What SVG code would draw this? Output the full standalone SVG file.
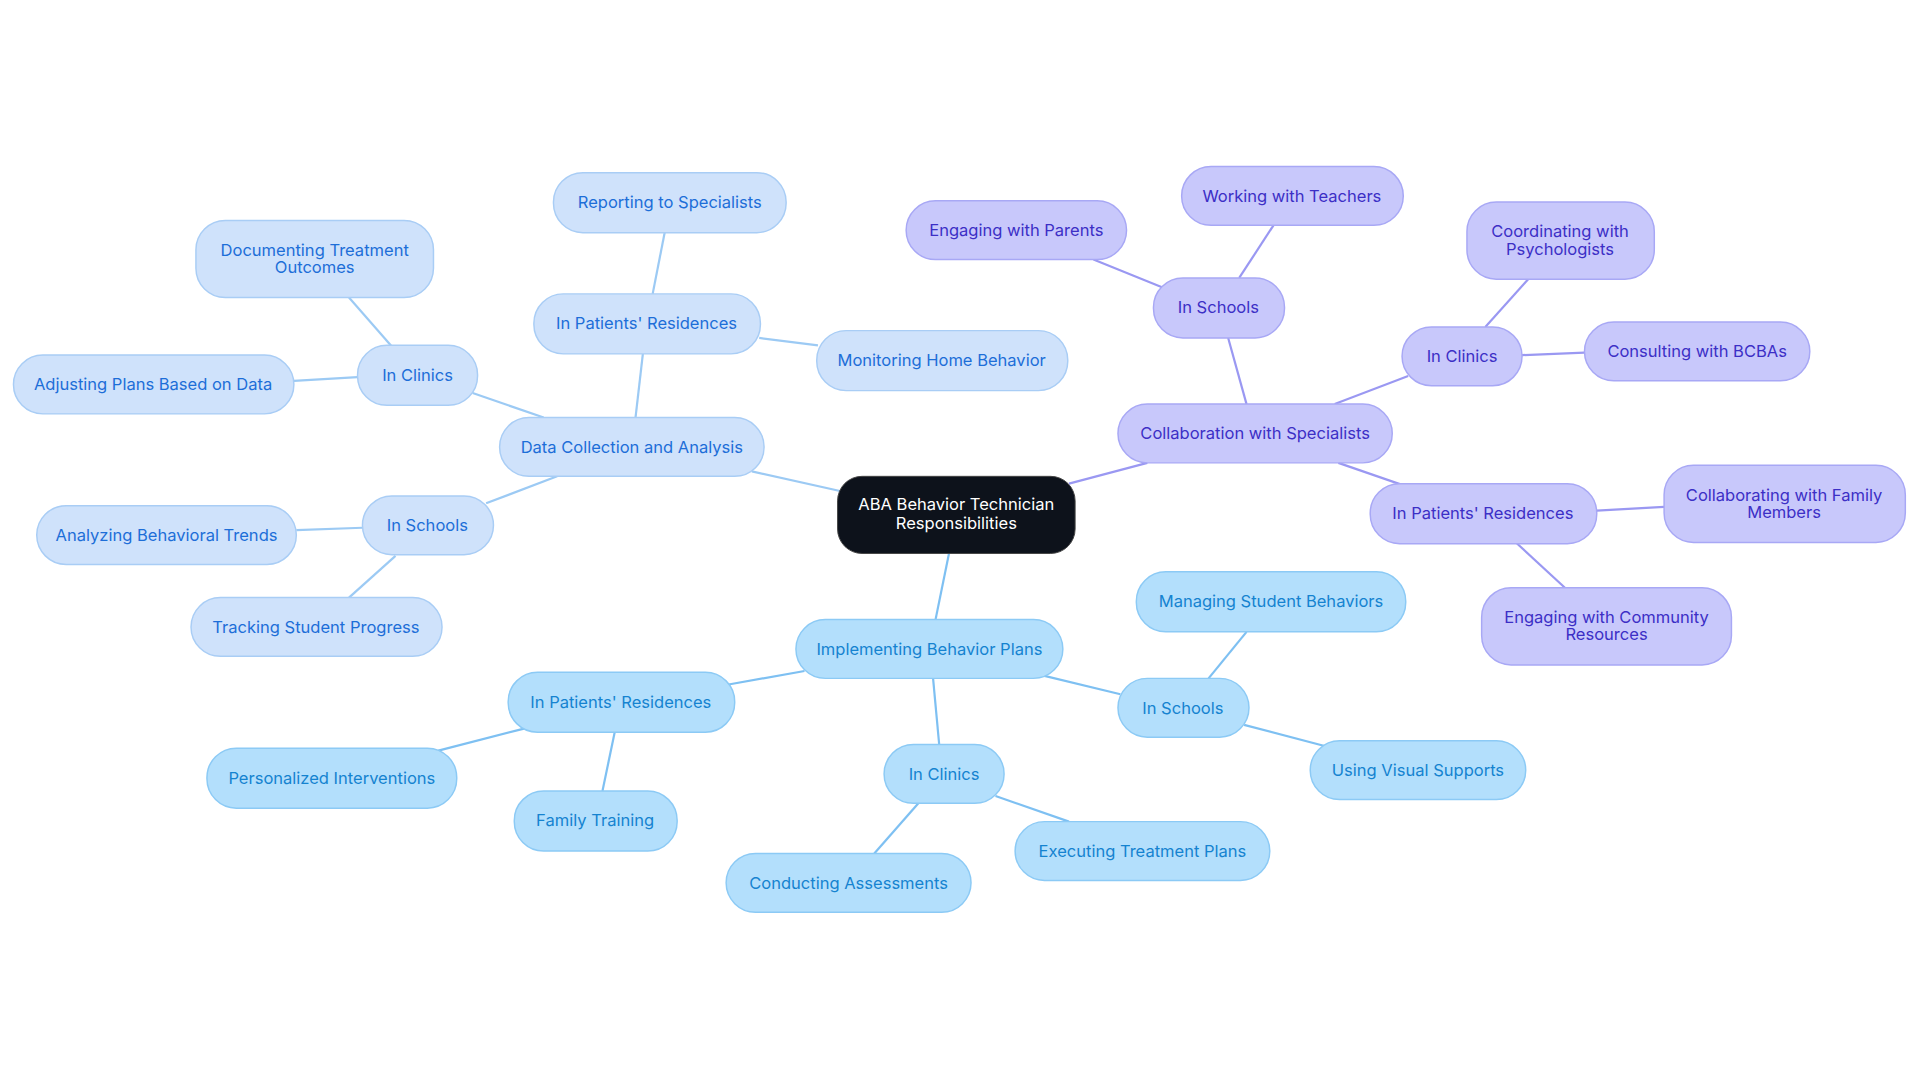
<svg xmlns="http://www.w3.org/2000/svg" width="1920" height="1083" viewBox="0 0 1920 1083">
<style>
text{font-family:Inter,"Liberation Sans",sans-serif;font-size:13.5px;text-anchor:middle;dominant-baseline:central}
.e line{stroke-width:1.8}
.a rect{fill:#cfe2fb;stroke:#a9cdf5;stroke-width:1.2}.a text{fill:#1d6ed8}
.b rect{fill:#b3dffc;stroke:#8ccaf5;stroke-width:1.2}.b text{fill:#1583d0}
.c rect{fill:#c8c8fb;stroke:#a8a8f5;stroke-width:1.2}.c text{fill:#3c2fc6}
</style>
<rect width="1920" height="1083" fill="#fff"/>
<g transform="scale(1.2245)">
<g id="edges" class="e">
<g stroke="#9ccaf4">
<line x1="686" y1="401" x2="614" y2="385"/><line x1="519" y1="341" x2="525" y2="289"/><line x1="533" y1="240" x2="543" y2="189"/><line x1="620" y1="276" x2="668" y2="282"/><line x1="444" y1="341" x2="386" y2="321"/><line x1="320" y1="283" x2="285" y2="243"/><line x1="292" y1="308" x2="240" y2="311"/><line x1="455" y1="389" x2="397" y2="411"/><line x1="296" y1="431" x2="242" y2="433"/><line x1="323" y1="454" x2="285" y2="488"/>
</g>
<g stroke="#7ec0f2">
<line x1="775" y1="452" x2="764" y2="506"/><line x1="657" y1="548" x2="595" y2="559"/><line x1="428" y1="595" x2="358" y2="613"/><line x1="502" y1="598" x2="492" y2="646"/><line x1="762" y1="554" x2="767" y2="608"/><line x1="750" y1="656" x2="714" y2="697"/><line x1="813" y1="650" x2="873" y2="671"/><line x1="853" y1="552" x2="915" y2="567"/><line x1="987" y1="554" x2="1018" y2="516"/><line x1="1016" y1="592" x2="1081" y2="609"/>
</g>
<g stroke="#9a98f2">
<line x1="873" y1="395" x2="937" y2="378"/><line x1="1018" y1="330" x2="1003" y2="276"/><line x1="950" y1="235" x2="893" y2="212"/><line x1="1012" y1="227" x2="1040" y2="184"/><line x1="1090" y1="330" x2="1150" y2="307"/><line x1="1213" y1="267" x2="1248" y2="228"/><line x1="1243" y1="290" x2="1294" y2="288"/><line x1="1093" y1="378" x2="1145" y2="396"/><line x1="1304" y1="417" x2="1359" y2="414"/><line x1="1238" y1="443" x2="1278" y2="480"/>
</g>
</g>
<g id="center"><rect x="684" y="389" width="194" height="63" rx="20" fill="#0d121b" stroke="#444" stroke-width="0.8"/><text x="781" y="412" fill="#fff">ABA Behavior Technician</text><text x="781" y="427" fill="#fff">Responsibilities</text></g>
<g class="a">
<g id="n1"><rect x="408" y="341" width="216" height="48" rx="24"/><text x="516" y="365">Data Collection and Analysis</text></g>
<g id="n2"><rect x="436" y="240" width="185" height="49" rx="24"/><text x="528" y="264">In Patients' Residences</text></g>
<g id="n3"><rect x="452" y="141" width="190" height="49" rx="24"/><text x="547" y="165">Reporting to Specialists</text></g>
<g id="n4"><rect x="667" y="270" width="205" height="49" rx="24"/><text x="769" y="294">Monitoring Home Behavior</text></g>
<g id="n5"><rect x="292" y="282" width="98" height="49" rx="24"/><text x="341" y="306">In Clinics</text></g>
<g id="n6"><rect x="160" y="180" width="194" height="63" rx="24"/><text x="257" y="204">Documenting Treatment</text><text x="257" y="218">Outcomes</text></g>
<g id="n7"><rect x="11" y="290" width="229" height="48" rx="24"/><text x="125" y="314">Adjusting Plans Based on Data</text></g>
<g id="n8"><rect x="296" y="405" width="107" height="48" rx="24"/><text x="349" y="429">In Schools</text></g>
<g id="n9"><rect x="30" y="413" width="212" height="48" rx="24"/><text x="136" y="437">Analyzing Behavioral Trends</text></g>
<g id="n10"><rect x="156" y="488" width="205" height="48" rx="24"/><text x="258" y="512">Tracking Student Progress</text></g>
</g>
<g class="b">
<g id="n11"><rect x="650" y="506" width="218" height="48" rx="24"/><text x="759" y="530">Implementing Behavior Plans</text></g>
<g id="n12"><rect x="415" y="549" width="185" height="49" rx="24"/><text x="507" y="573">In Patients' Residences</text></g>
<g id="n13"><rect x="169" y="611" width="204" height="49" rx="24"/><text x="271" y="635">Personalized Interventions</text></g>
<g id="n14"><rect x="420" y="646" width="133" height="49" rx="24"/><text x="486" y="670">Family Training</text></g>
<g id="n15"><rect x="722" y="608" width="98" height="48" rx="24"/><text x="771" y="632">In Clinics</text></g>
<g id="n16"><rect x="593" y="697" width="200" height="48" rx="24"/><text x="693" y="721">Conducting Assessments</text></g>
<g id="n17"><rect x="829" y="671" width="208" height="48" rx="24"/><text x="933" y="695">Executing Treatment Plans</text></g>
<g id="n18"><rect x="913" y="554" width="107" height="48" rx="24"/><text x="966" y="578">In Schools</text></g>
<g id="n19"><rect x="928" y="467" width="220" height="49" rx="24"/><text x="1038" y="491">Managing Student Behaviors</text></g>
<g id="n20"><rect x="1070" y="605" width="176" height="48" rx="24"/><text x="1158" y="629">Using Visual Supports</text></g>
</g>
<g class="c">
<g id="n21"><rect x="913" y="330" width="224" height="48" rx="24"/><text x="1025" y="354">Collaboration with Specialists</text></g>
<g id="n22"><rect x="942" y="227" width="107" height="49" rx="24"/><text x="995" y="251">In Schools</text></g>
<g id="n23"><rect x="740" y="164" width="180" height="48" rx="24"/><text x="830" y="188">Engaging with Parents</text></g>
<g id="n24"><rect x="965" y="136" width="181" height="48" rx="24"/><text x="1055" y="160">Working with Teachers</text></g>
<g id="n25"><rect x="1145" y="267" width="98" height="48" rx="24"/><text x="1194" y="291">In Clinics</text></g>
<g id="n26"><rect x="1198" y="165" width="153" height="63" rx="24"/><text x="1274" y="189">Coordinating with</text><text x="1274" y="203">Psychologists</text></g>
<g id="n27"><rect x="1294" y="263" width="184" height="48" rx="24"/><text x="1386" y="287">Consulting with BCBAs</text></g>
<g id="n28"><rect x="1119" y="395" width="185" height="49" rx="24"/><text x="1211" y="419">In Patients' Residences</text></g>
<g id="n29"><rect x="1359" y="380" width="197" height="63" rx="24"/><text x="1457" y="404">Collaborating with Family</text><text x="1457" y="418">Members</text></g>
<g id="n30"><rect x="1210" y="480" width="204" height="63" rx="24"/><text x="1312" y="504">Engaging with Community</text><text x="1312" y="518">Resources</text></g>
</g>
</g>
</svg>
